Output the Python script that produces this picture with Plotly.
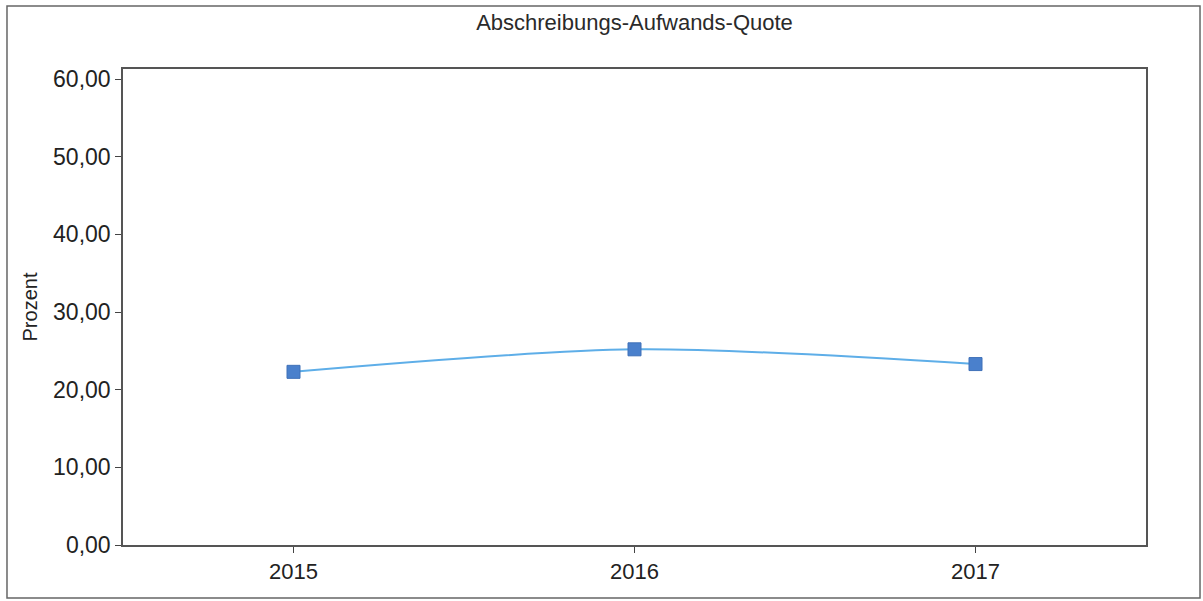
import plotly.graph_objects as go

years = ["2015", "2016", "2017"]
values = [22.3, 25.2, 23.3]
y_ticks = [0, 10, 20, 30, 40, 50, 60]
y_tick_labels = ["0,00", "10,00", "20,00", "30,00", "40,00", "50,00", "60,00"]
title_text = "Abschreibungs-Aufwands-Quote"
y_title = "Prozent"

fig = go.Figure()
fig.add_trace(go.Scatter(
    x=years, y=values, mode="lines+markers",
    line=dict(color="#5eaee8", width=2, shape="spline", smoothing=0.8),
    marker=dict(symbol="square", size=13, color="#4a80cc",
                line=dict(color="#3f70b8", width=1)),
    showlegend=False,
))

font = "Liberation Sans, Arial, sans-serif"
fig.update_layout(
    width=1203, height=601,
    margin=dict(l=123, r=57, t=69, b=56),
    paper_bgcolor="white", plot_bgcolor="white",
    title=dict(text=title_text, x=0.5, xref="paper", y=0.963, yref="container",
               xanchor="center", yanchor="middle",
               font=dict(family=font, size=22, color="#2a2a2a")),
    font=dict(family=font, color="#222"),
    xaxis=dict(type="category", range=[-0.5, 2.5], showgrid=False,
               showline=True, linecolor="#555", linewidth=1.5, mirror=True,
               ticks="outside", ticklen=6, tickcolor="#444",
               tickfont=dict(size=22, color="#222")),
    yaxis=dict(range=[0, 61.3], tickvals=y_ticks, ticktext=y_tick_labels,
               showgrid=False, zeroline=False,
               showline=True, linecolor="#555", linewidth=1.5, mirror=True,
               ticks="outside", ticklen=6, tickcolor="#444",
               tickfont=dict(size=23, color="#222"),
               title=dict(text=y_title, font=dict(size=20, color="#222"), standoff=10)),
    shapes=[dict(type="rect", xref="paper", yref="paper",
                 x0=-0.1134, x1=1.0528, y0=-0.1113, y1=1.1324,
                 line=dict(color="#666", width=1.5), layer="below")],
)

fig.write_html("out.html", config={"displayModeBar": False},
               post_script="document.body.style.margin='0';")
